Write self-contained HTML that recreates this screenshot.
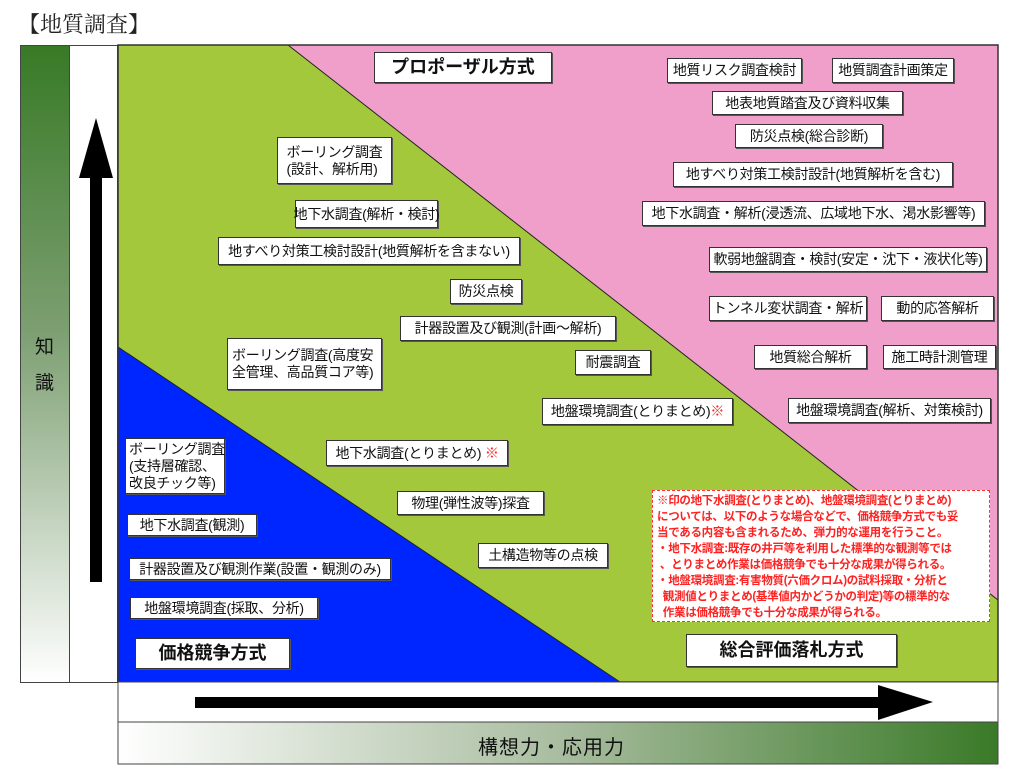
<!DOCTYPE html>
<html><head><meta charset="utf-8">
<style>
*{margin:0;padding:0;box-sizing:border-box}
body{width:1024px;height:772px;background:#fff;position:relative;overflow:hidden;font-family:"Liberation Sans","Noto Sans CJK JP",sans-serif;}
.b{position:absolute;background:#fff;border:1.5px solid #333;font-size:14px;color:#111;display:flex;align-items:center;justify-content:center;white-space:nowrap;line-height:17px;box-shadow:1px 1px 0 #555;letter-spacing:-0.3px}
.l{justify-content:flex-start;padding-left:4px}
.big{font-weight:bold;font-size:18px;letter-spacing:0}
</style></head><body>
<div style="position:absolute;left:18px;top:8px;font-family:'Liberation Serif','Noto Serif CJK SC',serif;font-size:22px;color:#222">【地質調査】</div>

<div style="position:absolute;left:20px;top:45px;width:50px;height:638px;background:linear-gradient(#387a26,#7d9f72 45%,#fff);border:1px solid #444"></div>
<div style="position:absolute;left:35px;top:330px;font-size:19px;line-height:36px;color:#111">知<br>識</div>
<div style="position:absolute;left:70px;top:45px;width:48px;height:638px;background:#fff;border:1px solid #444;border-left:none"></div>

<svg style="position:absolute;left:0;top:0" width="1024" height="772">
<rect x="118" y="45" width="880" height="637" fill="#a3c83c"/>
<polygon points="288,45 998,45 998,600" fill="#f09fca"/>
<line x1="288" y1="45" x2="998" y2="600" stroke="#222" stroke-width="1"/>
<polygon points="118,347 620,682 118,682" fill="#0026ff"/>
<line x1="118" y1="347" x2="620" y2="682" stroke="#222" stroke-width="1"/>
<rect x="118" y="45" width="880" height="637" fill="none" stroke="#333" stroke-width="1.5"/>
<rect x="90" y="170" width="12" height="412" fill="#000"/>
<polygon points="96,118 79,178 113,178" fill="#000"/>
<rect x="118" y="682" width="880" height="40" fill="#fff" stroke="#444" stroke-width="1"/>
<defs><linearGradient id="g" x1="0" x2="1"><stop offset="0" stop-color="#fff"/><stop offset="0.5" stop-color="#a9bda0"/><stop offset="1" stop-color="#3a7a28"/></linearGradient></defs>
<rect x="118" y="722" width="880" height="42" fill="url(#g)" stroke="#444" stroke-width="1"/>
<rect x="195" y="697" width="690" height="11" fill="#000"/>
<polygon points="933,702 878,685 878,720" fill="#000"/>
</svg>
<div style="position:absolute;left:478px;top:731px;font-size:20px;color:#111;letter-spacing:1px">構想力・応用力</div>

<div class="b big" style="left:374px;top:52px;width:178px;height:31px">プロポーザル方式</div>
<div class="b" style="left:667px;top:58px;width:135px;height:25px">地質リスク調査検討</div>
<div class="b" style="left:832px;top:58px;width:122px;height:25px">地質調査計画策定</div>
<div class="b" style="left:712px;top:91px;width:191px;height:24px">地表地質踏査及び資料収集</div>
<div class="b" style="left:735px;top:124px;width:148px;height:24px">防災点検(総合診断)</div>
<div class="b" style="left:673px;top:162px;width:280px;height:25px">地すべり対策工検討設計(地質解析を含む)</div>
<div class="b" style="left:642px;top:201px;width:343px;height:25px">地下水調査・解析(浸透流、広域地下水、渇水影響等)</div>
<div class="b" style="left:709px;top:247px;width:278px;height:25px">軟弱地盤調査・検討(安定・沈下・液状化等)</div>
<div class="b" style="left:709px;top:296px;width:158px;height:25px">トンネル変状調査・解析</div>
<div class="b" style="left:881px;top:296px;width:113px;height:25px">動的応答解析</div>
<div class="b" style="left:754px;top:345px;width:113px;height:24px">地質総合解析</div>
<div class="b" style="left:883px;top:345px;width:113px;height:24px">施工時計測管理</div>
<div class="b" style="left:788px;top:398px;width:203px;height:25px">地盤環境調査(解析、対策検討)</div>

<div class="b" style="left:277px;top:137px;width:115px;height:47px">ボーリング調査<br>(設計、解析用)</div>
<div class="b" style="left:295px;top:200px;width:143px;height:28px">地下水調査(解析・検討)</div>
<div class="b" style="left:218px;top:237px;width:302px;height:28px">地すべり対策工検討設計(地質解析を含まない)</div>
<div class="b" style="left:450px;top:279px;width:72px;height:25px">防災点検</div>
<div class="b" style="left:400px;top:316px;width:216px;height:25px">計器設置及び観測(計画～解析)</div>
<div class="b l" style="left:227px;top:338px;width:155px;height:52px">ボーリング調査(高度安<br>全管理、高品質コア等)</div>
<div class="b" style="left:575px;top:350px;width:76px;height:25px">耐震調査</div>
<div class="b" style="left:542px;top:398px;width:191px;height:27px">地盤環境調査(とりまとめ)<span style="color:#f22">※</span></div>
<div class="b" style="left:326px;top:440px;width:182px;height:26px">地下水調査(とりまとめ)&nbsp;<span style="color:#f22">※</span></div>
<div class="b" style="left:397px;top:491px;width:147px;height:24px">物理(弾性波等)探査</div>
<div class="b" style="left:478px;top:543px;width:130px;height:25px">土構造物等の点検</div>

<div class="b l" style="left:125px;top:438px;width:100px;height:56px;padding-left:3px">ボーリング調査<br>(支持層確認、<br>改良チック等)</div>
<div class="b" style="left:127px;top:514px;width:130px;height:22px">地下水調査(観測)</div>
<div class="b" style="left:129px;top:558px;width:262px;height:22px">計器設置及び観測作業(設置・観測のみ)</div>
<div class="b" style="left:130px;top:597px;width:188px;height:22px">地盤環境調査(採取、分析)</div>
<div class="b big" style="left:135px;top:638px;width:155px;height:31px">価格競争方式</div>

<div class="b big" style="left:686px;top:634px;width:211px;height:33px">総合評価落札方式</div>

<div style="position:absolute;left:652px;top:490px;width:338px;height:132px;background:#fff;border:1px dashed #f33;color:#f22;font-weight:bold;font-size:11.5px;line-height:16px;padding:2px 4px;white-space:nowrap;letter-spacing:-0.3px">※印の地下水調査(とりまとめ)、地盤環境調査(とりまとめ)<br>については、以下のような場合などで、価格競争方式でも妥<br>当である内容も含まれるため、弾力的な運用を行うこと。<br>・地下水調査:既存の井戸等を利用した標準的な観測等では<br>&nbsp;、とりまとめ作業は価格競争でも十分な成果が得られる。<br>・地盤環境調査:有害物質(六価クロム)の試料採取・分析と<br>&nbsp;&nbsp;観測値とりまとめ(基準値内かどうかの判定)等の標準的な<br>&nbsp;&nbsp;作業は価格競争でも十分な成果が得られる。</div>
</body></html>
